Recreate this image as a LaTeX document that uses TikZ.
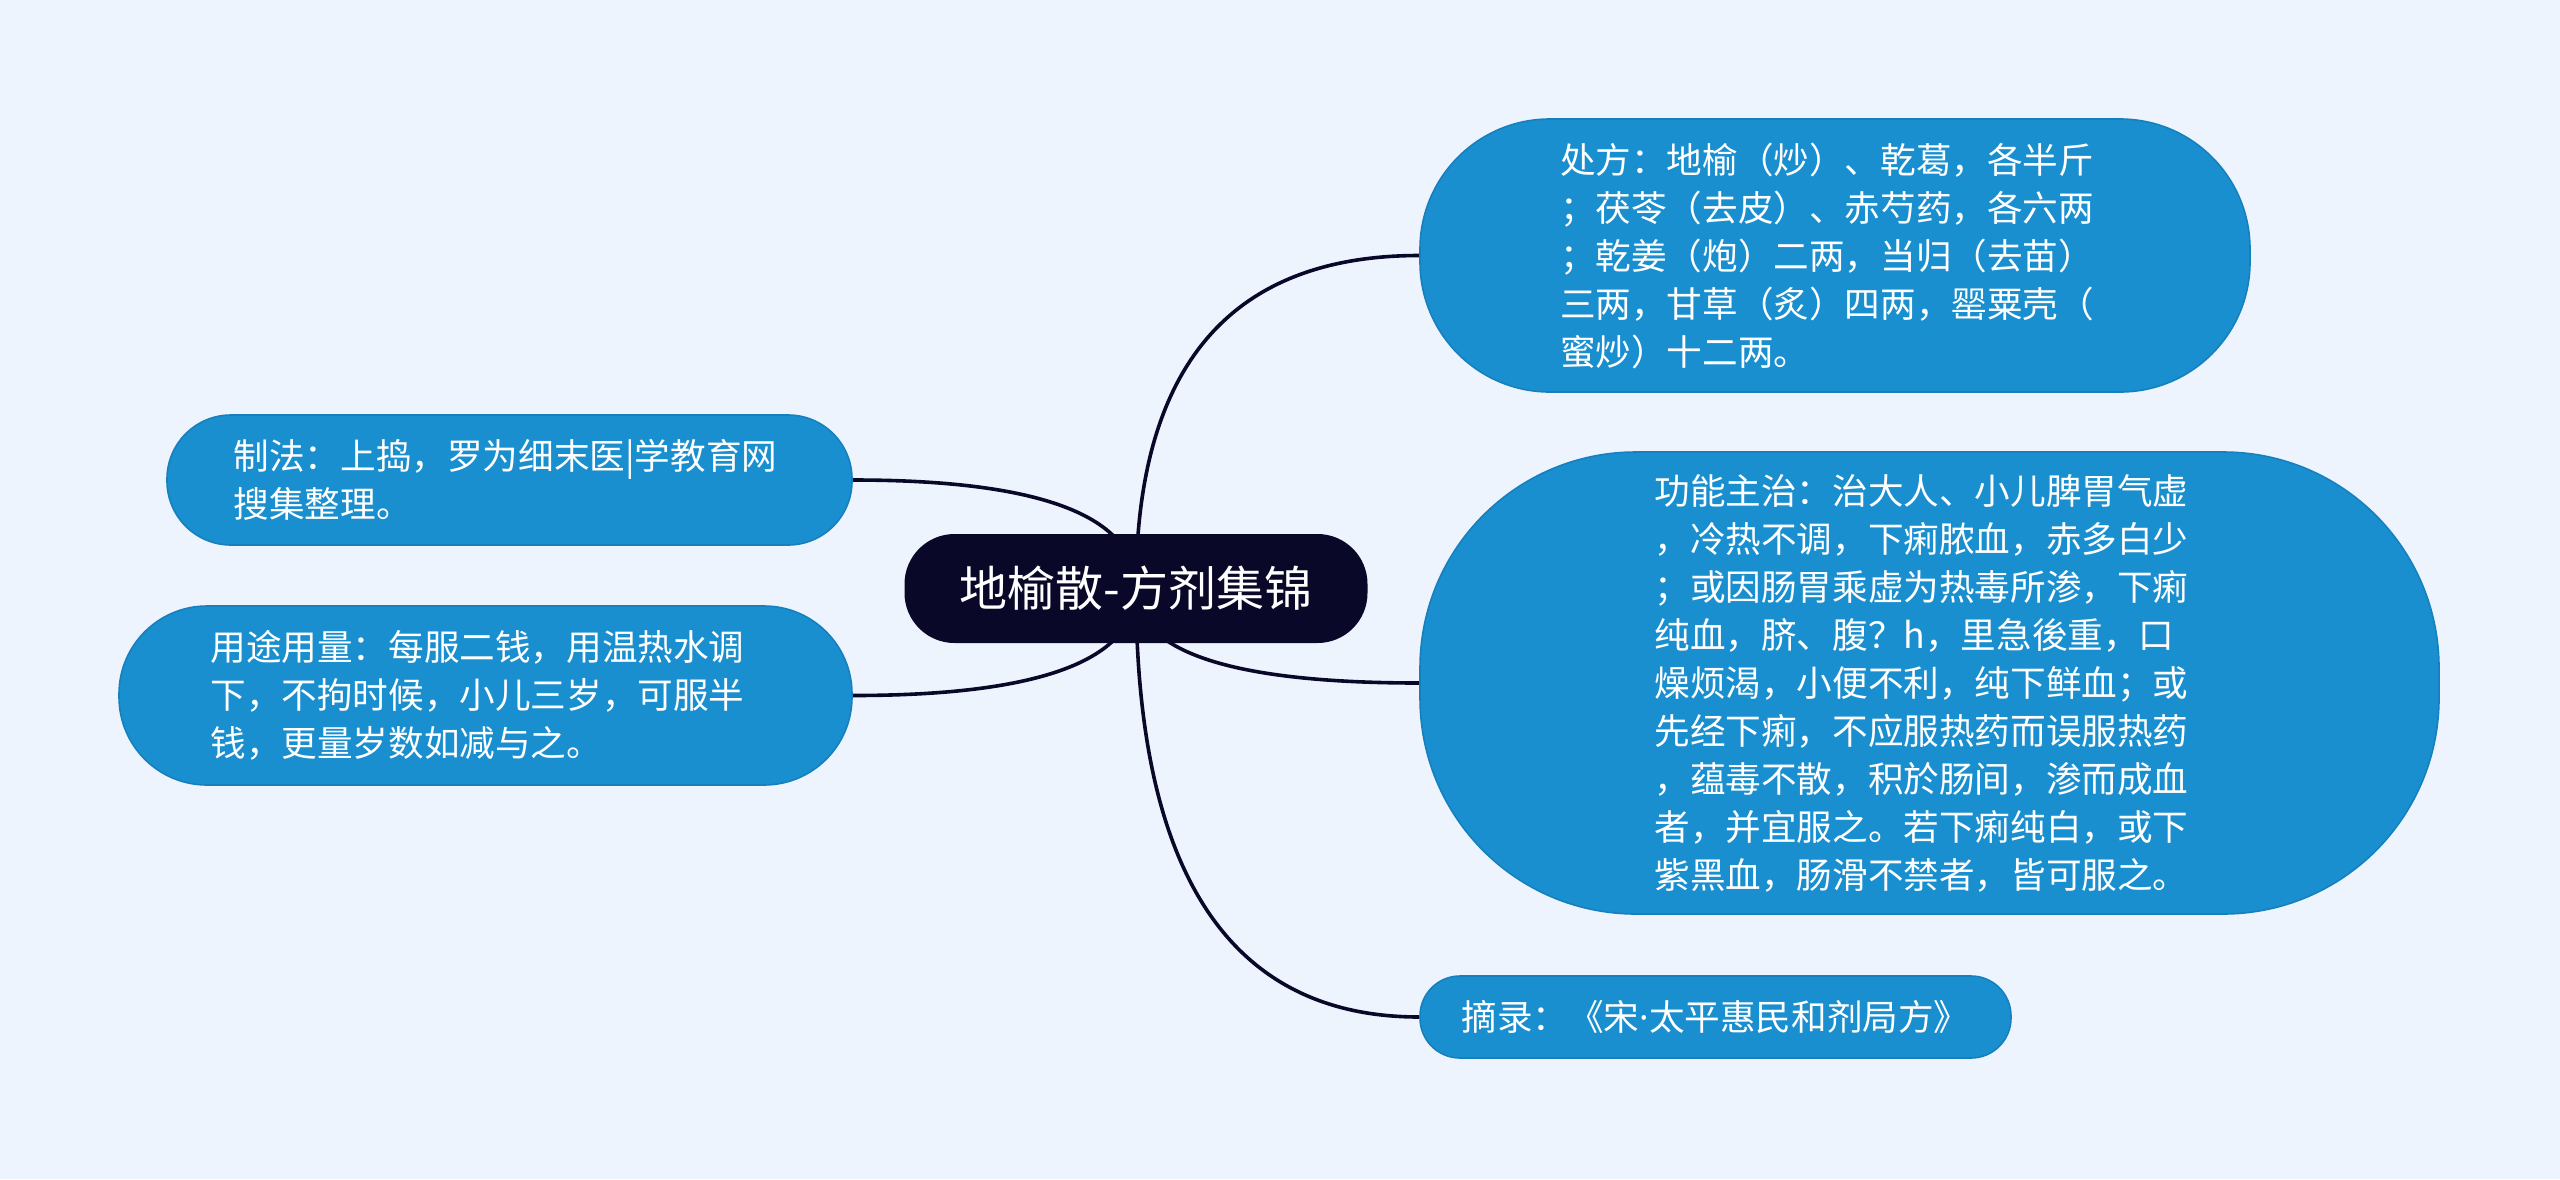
\documentclass[tikz,border=0pt]{standalone}
\usepackage{fontspec}
\newfontfamily\cjk{Noto Sans CJK SC}
\newfontfamily\latinf{Noto Sans}
\usetikzlibrary{calc,backgrounds}
\definecolor{bgc}{RGB}{238,244,254}
\definecolor{nodeblue}{RGB}{26,143,208}
\definecolor{nodeedge}{RGB}{22,128,190}
\definecolor{rootc}{RGB}{10,8,40}
\newcommand{\padr}{\rule{8pt}{0pt}}
\tikzset{
  topic/.style={draw=nodeedge, line width=0.8pt, fill=nodeblue, text=white, align=left,
    font=\cjk\fontsize{17.8pt}{24pt}\selectfont, inner sep=0pt},
  rootbox/.style={fill=rootc, text=white, font=\cjk\fontsize{24pt}{30pt}\selectfont,
    rounded corners=25pt, inner sep=0pt},
  edge/.style={draw=rootc, line width=1.8pt},
}
\begin{document}
\begin{tikzpicture}[x=0.5pt,y=-0.5pt]
\useasboundingbox (0,0) rectangle (2560,1179);

\node[rootbox, minimum width=231.5pt, minimum height=54.5pt] (r) at (1136,588.5) {地榆散-方剂集锦};

\node[topic, minimum width=415pt, minimum height=136.5pt, rounded corners=65pt] (a) at (1835,255.5)
 {处方：地榆（炒）、乾葛，各半斤\padr\\；茯苓（去皮）、赤芍药，各六两\\；乾姜（炮）二两，当归（去苗）\\三两，甘草（炙）四两，罂粟壳（\\蜜炒）十二两。};

\node[topic, minimum width=509.5pt, minimum height=231pt, rounded corners=108pt] (b) at (1929.5,683)
 {功能主治：治大人、小儿脾胃气虚\padr\\，冷热不调，下痢脓血，赤多白少\\；或因肠胃乘虚为热毒所渗，下痢\\纯血，脐、腹？h，里急後重，口\\燥烦渴，小便不利，纯下鲜血；或\\先经下痢，不应服热药而误服热药\\，蕴毒不散，积於肠间，渗而成血\\者，并宜服之。若下痢纯白，或下\\紫黑血，肠滑不禁者，皆可服之。};

\node[topic, minimum width=295.5pt, minimum height=41pt, rounded corners=20pt] (c) at (1715.5,1017)
 {摘录：《宋{\latinf ·}太平惠民和剂局方》};

\node[topic, minimum width=342.5pt, minimum height=65pt, rounded corners=32pt] (d) at (509.5,480)
 {制法：上捣，罗为细末医|学教育网\rule{4pt}{0pt}\\搜集整理。};

\node[topic, minimum width=366.5pt, minimum height=89.5pt, rounded corners=44pt] (e) at (485.5,695.5)
 {用途用量：每服二钱，用温热水调\padr\\下，不拘时候，小儿三岁，可服半\\钱，更量岁数如减与之。};

\begin{scope}[on background layer]
\fill[bgc] (0,0) rectangle (2560,1179);
\draw[edge] (r.center) .. controls ($(r.center)!0.667!(r.center|-a.west)$) and ($(a.west)!0.667!(r.center|-a.west)$) .. (a.west);
\draw[edge] (r.center) .. controls ($(r.center)!0.667!(r.center|-b.west)$) and ($(b.west)!0.667!(r.center|-b.west)$) .. (b.west);
\draw[edge] (r.center) .. controls ($(r.center)!0.667!(r.center|-c.west)$) and ($(c.west)!0.667!(r.center|-c.west)$) .. (c.west);
\draw[edge] (r.center) .. controls ($(r.center)!0.667!(r.center|-d.east)$) and ($(d.east)!0.667!(r.center|-d.east)$) .. (d.east);
\draw[edge] (r.center) .. controls ($(r.center)!0.667!(r.center|-e.east)$) and ($(e.east)!0.667!(r.center|-e.east)$) .. (e.east);
\end{scope}
\end{tikzpicture}
\end{document}
